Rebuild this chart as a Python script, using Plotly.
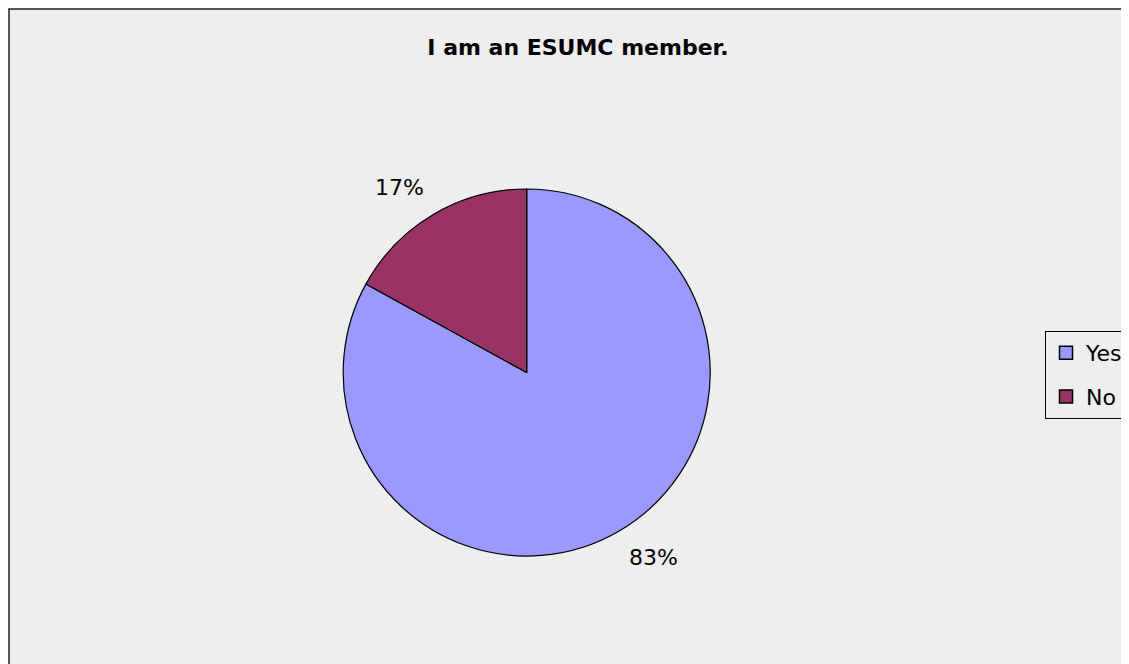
import math
import plotly.graph_objects as go

labels = ["Yes", "No"]
values = [83, 17]
colors = ["#9999FF", "#993366"]
title = "I am an ESUMC member."

# figure is drawn inside the page body (8px offset); sized so it ends at the window edge
W, H = 1121, 656
cx, cy, r = 521.5, 364.5, 184.5
label_dist = 224.5
label_turn = -4.0  # degrees, labels sit slightly counter-clockwise of slice middle
FONT = "DejaVu Sans"

fig = go.Figure()
fig.add_trace(go.Pie(
    labels=labels,
    values=values,
    sort=False,
    direction="clockwise",
    rotation=0,
    marker=dict(colors=colors, line=dict(color="black", width=1.2)),
    textinfo="none",
    showlegend=False,
    domain=dict(x=[(cx - r) / W, (cx + r) / W], y=[(H - cy - r) / H, (H - cy + r) / H]),
    hoverinfo="label+percent",
))

# legend entries (square swatches) built from the same labels/colors
for lab, col in zip(labels, colors):
    fig.add_trace(go.Scatter(
        x=[None], y=[None], mode="markers", name=lab, legendgroup=lab,
        marker=dict(symbol="square", size=13, color=col, line=dict(color="black", width=1.5)),
        hoverinfo="skip",
    ))

# percentage labels placed outside each slice along its mid-angle
total = sum(values)
annotations = []
start = 0.0
for v in values:
    mid = (start + v / 2) / total * 2 * math.pi + math.radians(label_turn)
    start += v
    x = cx + label_dist * math.sin(mid)
    y = cy - label_dist * math.cos(mid)
    annotations.append(dict(
        x=x / W, y=1 - y / H, xref="paper", yref="paper", showarrow=False,
        text=f"{round(v / total * 100)}%", xanchor="center", yanchor="middle",
        font=dict(family=FONT, size=22, color="black"),
    ))

fig.update_layout(
    width=W, height=H,
    margin=dict(l=0, r=0, t=0, b=0),
    paper_bgcolor="white",
    plot_bgcolor="rgba(0,0,0,0)",
    xaxis=dict(visible=False),
    yaxis=dict(visible=False),
    title=dict(text="<b>" + title + "</b>", x=570 / W, xanchor="center", y=1 - 39 / H, yanchor="middle",
               font=dict(family=FONT, size=22, color="black")),
    showlegend=True,
    legend=dict(x=1043 / W, xanchor="left", y=1 - 323 / H, yanchor="top",
                bgcolor="#EEEEEE", bordercolor="black", borderwidth=1,
                tracegroupgap=12, itemwidth=30,
                font=dict(family=FONT, size=22, color="black")),
    annotations=annotations,
    shapes=[dict(type="rect", xref="paper", yref="paper", x0=1 / W, x1=1.02, y0=-0.02, y1=1 - 1 / H,
                 fillcolor="#EEEEEE", line=dict(color="#222222", width=1.5), layer="below")],
)

fig.write_html("out.html")
